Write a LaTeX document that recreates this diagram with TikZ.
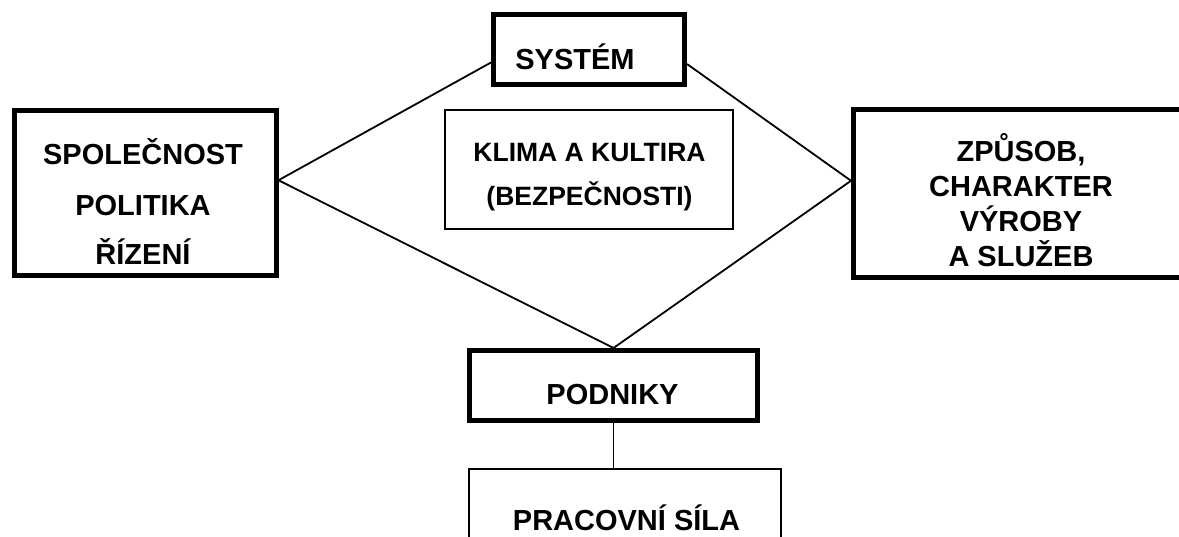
\documentclass[tikz,border=0pt]{standalone}
\usepackage{fontspec}
\setmainfont{Liberation Sans}
\begin{document}
\begin{tikzpicture}[x=1pt,y=-1pt,
  heavybox/.style={draw, line width=5pt, rectangle, inner sep=0pt},
  lightbox/.style={draw, line width=1.8pt, rectangle, inner sep=0pt},
  link/.style={line width=1.8pt},
  lab/.style={font=\fontsize{29}{34}\selectfont\bfseries, anchor=base, inner sep=0pt},
  smalllab/.style={font=\fontsize{26.5}{30}\selectfont\bfseries, anchor=base, inner sep=0pt}]
\useasboundingbox (0,0) rectangle (1179,537);
\clip (0,0) rectangle (1179,537);
\fill[white] (0,0) rectangle (1179,537);

% boxes
\node[heavybox, minimum width=191pt, minimum height=70pt] (sys) at (589,49.5) {};
\node[heavybox, minimum width=261.5pt, minimum height=165.5pt] (soc) at (145.25,193.25) {};
\node[lightbox, minimum width=288pt, minimum height=119pt] (klima) at (589,169.5) {};
\node[heavybox, minimum width=332.5pt, minimum height=167.5pt] (zpus) at (1019.75,193.75) {};
\node[heavybox, minimum width=288pt, minimum height=70pt] (pod) at (613.5,385.5) {};
\node[lightbox, minimum width=312pt, minimum height=120pt] (prac) at (625,529) {};

% texts
\node[lab] (sys-t) at (575,70) {SYSTÉM};
\node[lab] (soc-t1) at (143,165) {SPOLEČNOST};
\node[lab] (soc-t2) at (143,216) {POLITIKA};
\node[lab] (soc-t3) at (143,265) {ŘÍZENÍ};
\node[smalllab] (kl-t1) at (589.5,161.5) {KLIMA A KULTIRA};
\node[smalllab] (kl-t2) at (589.5,206) {(BEZPEČNOSTI)};
\node[lab] (zp-t1) at (1021,161.7) {ZPŮSOB,};
\node[lab] (zp-t2) at (1021,196.7) {CHARAKTER};
\node[lab] (zp-t3) at (1021,231.7) {VÝROBY};
\node[lab] (zp-t4) at (1021,266.7) {A SLUŽEB};
\node[lab] (pod-t) at (612.5,405) {PODNIKY};
\node[lab] (prac-t) at (626.5,530) {PRACOVNÍ SÍLA};

% connectors
\coordinate (socv) at ([yshift=13pt]soc.east);
\coordinate (zpv) at ([yshift=13pt]zpus.west);
\draw[link] ([yshift=-13pt]sys.west) -- (socv);
\draw[link] ([yshift=-14.5pt]sys.east) -- (zpv);
\draw[link] (socv) -- (pod.north);
\draw[link] (zpv) -- (pod.north);
\draw[link] (pod.south) -- (pod.south |- prac.north);
\end{tikzpicture}
\end{document}
